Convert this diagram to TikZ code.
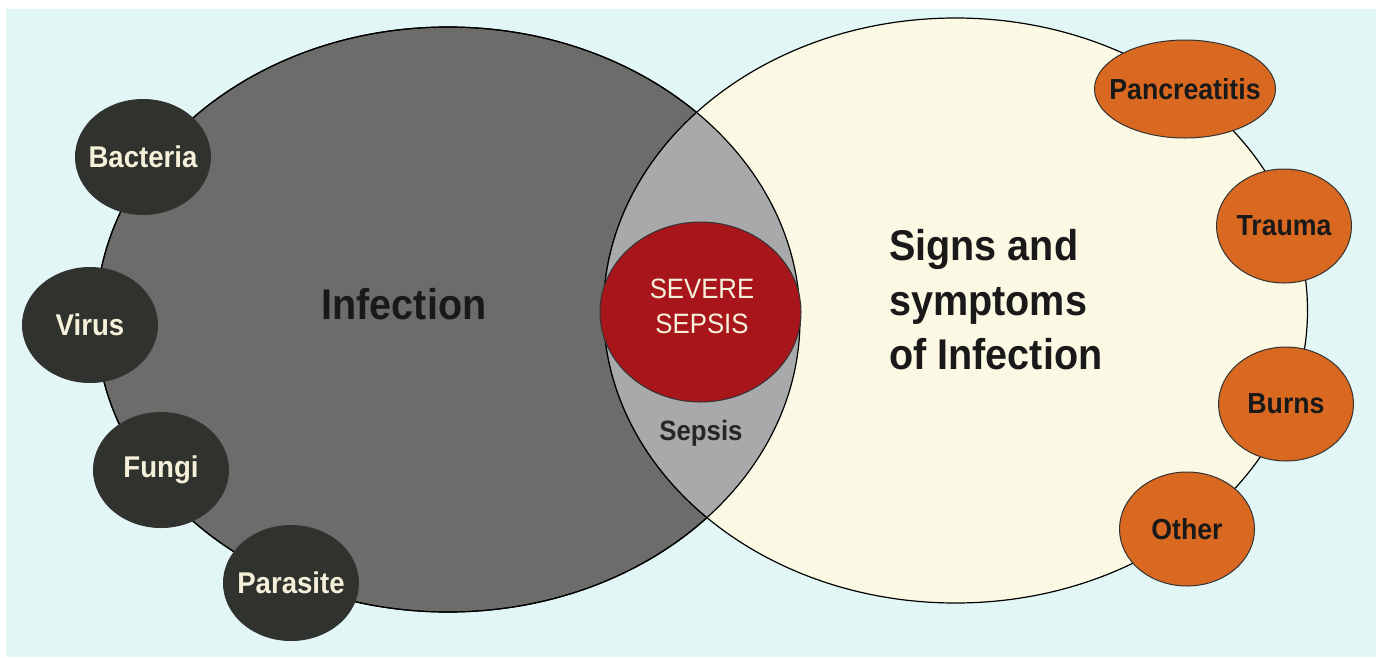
\documentclass[tikz,border=0pt]{standalone}
\usepackage{fontspec}
\setmainfont{Liberation Sans}[FakeStretch=0.92]
\usetikzlibrary{shapes.geometric,positioning}
\definecolor{bgcyan}{RGB}{226,246,246}
\definecolor{infgray}{RGB}{108,108,106}
\definecolor{signcream}{RGB}{251,249,228}
\definecolor{lensgray}{RGB}{168,169,171}
\definecolor{germdark}{RGB}{47,50,45}
\definecolor{sepsisred}{RGB}{168,22,28}
\definecolor{causeorange}{RGB}{217,105,33}
\definecolor{labelcream}{RGB}{245,240,218}
\tikzset{
    bigset/.style={ellipse, draw=black, line width=1.2pt, minimum width=704pt, minimum height=585pt, inner sep=0pt},
    germ/.style={ellipse, draw=black!80, fill=germdark, line width=1pt, minimum width=135pt, minimum height=115pt, inner sep=0pt},
    cause/.style={ellipse, draw=black!80, fill=causeorange, line width=1pt, minimum width=135pt, minimum height=114pt, inner sep=0pt},
    germtext/.style={font=\fontsize{30}{30}\selectfont\bfseries, text=labelcream},
    causetext/.style={font=\fontsize{29}{29}\selectfont\bfseries, text=black!90},
    bigtext/.style={font=\fontsize{43}{54.5}\selectfont\bfseries, text=black!90, inner sep=0pt}
}
\begin{document}
\begin{tikzpicture}[x=1pt, y=-1pt]
    % Canvas
    \useasboundingbox (0,0) rectangle (1376,657);
    \fill[white] (0,0) rectangle (1376,657);
    \fill[bgcyan] (6,9) rectangle (1376,657);

    % The two sets and their overlap
    \node[bigset, fill=infgray] (infection) at (448,319.5) {};
    \node[bigset, fill=signcream] (signs) at (955.5,310.5) {};
    \begin{scope}
        \clip (infection.center) ellipse [x radius=352pt, y radius=292.5pt];
        \filldraw[fill=lensgray, draw=black, line width=1.2pt] (signs.center) ellipse [x radius=352pt, y radius=292.5pt];
    \end{scope}
    \draw[line width=1.2pt] (infection.center) ellipse [x radius=352pt, y radius=292.5pt];

    % Severe sepsis
    \node[ellipse, draw=black!80, fill=sepsisred, line width=1pt, minimum width=201pt, minimum height=180pt] (severe) at (700.5,312) {};
    \node[font=\fontsize{28}{35}\selectfont, text=labelcream, align=center, inner sep=0pt] (severetext) at (702,306) {SEVERE\\SEPSIS};
    \node[font=\fontsize{28}{28}\selectfont\bfseries, text=black!85] (sepsis) at (701,433) {Sepsis};

    % Set labels
    \node[bigtext] (inftext) at (404,304) {Infection};
    \node[bigtext, align=left, anchor=west] (signstext) at (889,300) {Signs and\\symptoms\\of Infection};

    % Causes of infection
    \node[germ, label={[germtext]center:Bacteria}] (bacteria) at (143,157) {};
    \node[germ, label={[germtext]center:Virus}] (virus) at (90,325) {};
    \node[germ, label={[germtext]center:Fungi}] (fungi) at (161,470) {};
    \node[germ, label={[germtext]center:Parasite}] (parasite) at (291,583) {};

    % Other causes of the signs
    \node[cause, minimum width=181pt, minimum height=98pt, label={[causetext]center:Pancreatitis}] (pancreatitis) at (1185,89) {};
    \node[cause, label={[causetext]center:Trauma}] (trauma) at (1284,226) {};
    \node[cause, label={[causetext]center:Burns}] (burns) at (1286,404) {};
    \node[cause, label={[causetext]center:Other}] (other) at (1187,529) {};
\end{tikzpicture}
\end{document}
